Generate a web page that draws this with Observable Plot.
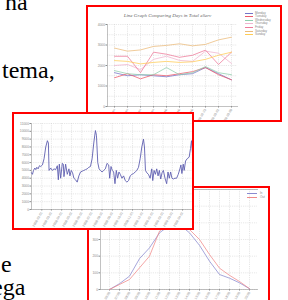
<!DOCTYPE html>
<html><head><meta charset="utf-8">
<script src="https://cdn.jsdelivr.net/npm/d3@7"></script>
<script src="https://cdn.jsdelivr.net/npm/@observablehq/plot@0.6"></script>
<style>
html,body{margin:0;padding:0;background:#fff;width:288px;height:300px;overflow:hidden;position:relative;font-family:"Liberation Sans",Arial,sans-serif}
.box{position:absolute;border:2px solid #ff0000;background:#fff;overflow:hidden;box-sizing:border-box}
.box svg{display:block;position:absolute;left:0;top:0}
.lg{position:absolute;font-size:3px;line-height:3px;color:#888;white-space:nowrap}
.sw{position:absolute;height:0.8px}
#words{position:absolute;left:0;top:0}
</style></head><body>
<svg id="words" width="288" height="300"></svg>
<div class="box" id="c1" style="left:86px;top:5px;width:196px;height:117px;z-index:1"></div>
<div class="box" id="c3" style="left:87px;top:186px;width:183px;height:130px;z-index:2"></div>
<div class="box" id="c2" style="left:12px;top:112px;width:182px;height:118px;z-index:3"></div>
<script>
// ---- page text fragments ----
const words = ["na", "tema,", "e", "ega"];

// ---- chart 1: line graph comparing days ----
const title1 = "Line Graph Comparing Days in Total eServ";
const weeks1 = ["05-Jan","12-Jan","19-Jan","26-Jan","02-Feb","09-Feb","16-Feb","2009-02-23","2009-03-02","2009-03-09"];
const dayNames = ["Monday","Tuesday","Wednesday","Thursday","Friday","Saturday","Sunday"];
const dayColors = ["#7474c8","#ec5a6a","#8fcfae","#f0b4cf","#ee7a9a","#ebbb7a","#ffcc55"];
const monday    = [1650,1500,1550,1500,1450,1550,1600,1900,1600,1300];
const tuesday   = [1400,1600,1350,1550,1500,1600,1700,1900,1550,1300];
const wednesday = [1750,1600,1550,1550,1900,1550,1650,1950,1650,1550];
const thursday  = [2000,2050,1800,2300,2450,2250,2200,2700,2600,2100];
const friday    = [2450,2450,1650,2650,2550,2400,2500,2750,2050,2650];
const saturday  = [2850,2700,2760,2930,2980,3060,2960,3030,3250,3380];
const sunday    = [2240,2200,2080,2150,2200,2150,2180,2300,2500,2650];
const yTicks1 = [0,1000,2000,3000,4000];

// ---- chart 2: daily totals ----
const start2 = "2008-01-01";
const dayOffset2 = [0,3,6,10,13,16,20,24,28,33,38,43,48,51,53,58,63,68,73,78,81,84,88,93,96,98,103,108,113,116,120,124,128,133,138,143,148,153,158,163,168,173,178,183,188,193,196,200,204,208,213,218,223,228,233,236,240,244,248,252,256,260,264,268,273,278,283,288,293,298,303,308,313,318,323,328,333,338,341,344,348,353,358,363,366,370,374,378,382,386,390,394,398,403,408,412,416,420,424,428,433,438,443,448,451,454,458,461,465,470,476,480,483,486];
const total2 = [4700,4500,5000,5300,5100,5400,5200,5600,5500,5700,6500,8000,8800,8500,5000,5300,5000,5200,5100,5600,3800,5800,4000,5900,5800,4200,5800,4500,5200,4300,5000,4700,4000,3800,3500,4300,4800,4900,5000,5100,5200,5400,5500,6500,8500,10100,9500,6000,5200,5000,4800,5000,5200,5900,5700,4000,5500,5000,4800,3300,5000,4000,4800,4500,4000,4300,3700,3500,3700,4300,4500,4600,4800,5000,5400,6500,8000,9000,8000,5000,4700,4500,4000,5200,3700,5000,4500,5200,4300,5000,3900,4700,5000,4000,3300,4800,4000,4800,4000,3900,4000,4000,4500,5200,5700,4600,5800,5000,6200,6500,6700,7800,8800,7200];
const yTicks2 = [0,1000,2000,3000,4000,5000,6000,7000,8000,9000,10000,11000];

// ---- chart 3: hourly comparison ----
const hours3 = ["06:00","07:00","08:00","09:00","10:00","11:00","12:00","13:00","14:00","15:00","16:00","17:00","18:00","19:00","20:00"];
const series3 = ["In","Out"];
const colors3 = ["#8a8ad0","#f08a8a"];
const in3  = [0,35,80,185,250,340,385,390,340,265,170,90,68,40,5];
const out3 = [0,30,60,130,200,350,400,400,360,300,210,128,85,48,5];
const yTicks3 = [0,100,200,300,400,500,600];

// ---------- page words ----------
{
  const svg = d3.select("#words");
  const pos = [[5,10],[2,78],[1,272],[-8,295]];
  words.forEach((w,i)=>{
    svg.append("text").attr("x",pos[i][0]).attr("y",pos[i][1])
      .attr("font-family","'Liberation Serif','Times New Roman',serif")
      .attr("font-size",24).attr("fill","#000").text(w);
  });
}

const gray = "#8a8a8a";
const gridStyle = {stroke:"#cfcfcf", strokeOpacity:1, strokeDasharray:"1.2,1", strokeWidth:0.5};

// ---------- chart 1 ----------
{
  const all = [monday,tuesday,wednesday,thursday,friday,saturday,sunday];
  const rows = [];
  dayNames.forEach((d,i)=>weeks1.forEach((w,j)=>rows.push({day:d, week:w, v:all[i][j]})));
  const p = Plot.plot({
    width:192, height:113, marginLeft:19, marginRight:43, marginTop:17, marginBottom:14,
    style:{fontSize:"3.3px", color:gray, fontFamily:"'Liberation Sans',sans-serif", background:"#fff"},
    x:{type:"point", domain:weeks1, padding:0.375, label:null},
    y:{domain:[0,4000], label:null},
    color:{domain:dayNames, range:dayColors},
    marks:[
      Plot.gridY([500,1000,1500,2000,2500,3000,3500,4000], gridStyle),
      Plot.gridX(gridStyle),
      Plot.axisY({ticks:yTicks1, tickFormat:d3.format("d"), tickSize:1.5, tickPadding:1, label:null}),
      Plot.axisX({tickRotate:-60, tickSize:1.5, tickPadding:1, label:null}),
      Plot.frame({anchor:"left", stroke:"#999", strokeWidth:0.6}),
      Plot.frame({anchor:"bottom", stroke:"#999", strokeWidth:0.6}),
      Plot.lineY(rows, {x:"week", y:"v", stroke:"day", strokeWidth:0.9, strokeOpacity:0.85}),
      Plot.text([title1], {frameAnchor:"top", dy:-11, dx:-5, fontStyle:"italic", fontSize:5, fill:"#666", fontFamily:"'Liberation Serif',serif"})
    ]
  });
  const box = document.getElementById("c1");
  box.appendChild(p);
  dayNames.forEach((d,i)=>{
    const sw = document.createElement("div");
    sw.className="sw"; sw.style.left="157px"; sw.style.width="8px";
    sw.style.top=(5.5+i*3.6)+"px"; sw.style.background=dayColors[i];
    box.appendChild(sw);
    const t = document.createElement("div");
    t.className="lg"; t.style.left="167px"; t.style.top=(4.5+i*3.6)+"px"; t.textContent=d;
    box.appendChild(t);
  });
}

// ---------- chart 2 ----------
{
  const s = new Date(start2);
  const rows = dayOffset2.map((o,i)=>({date:d3.utcDay.offset(s,o), v:total2[i]}));
  const end = d3.utcDay.offset(s, dayOffset2[dayOffset2.length-1]);
  const months = d3.utcMonths(d3.utcDay.offset(s,8), end);
  const p = Plot.plot({
    width:178, height:114, marginLeft:17, marginRight:0, marginTop:9, marginBottom:19,
    style:{fontSize:"3.3px", color:gray, fontFamily:"'Liberation Sans',sans-serif", background:"#fff"},
    x:{type:"utc", domain:[s,end], label:null},
    y:{domain:[0,11000], label:null},
    marks:[
      Plot.gridY(yTicks2, gridStyle),
      Plot.gridX(months, gridStyle),
      Plot.axisY({ticks:yTicks2, tickFormat:d3.format("d"), tickSize:1.5, tickPadding:1, label:null}),
      Plot.axisX({ticks:months, tickFormat:d3.utcFormat("%Y-%m-%d"), tickRotate:-60, tickSize:1.5, tickPadding:1, label:null}),
      Plot.frame({anchor:"left", stroke:"#999", strokeWidth:0.6}),
      Plot.frame({anchor:"bottom", stroke:"#999", strokeWidth:0.6}),
      Plot.lineY(rows, {x:"date", y:"v", stroke:"#5f5fb0", strokeWidth:0.9})
    ]
  });
  document.getElementById("c2").appendChild(p);
}

// ---------- chart 3 ----------
{
  const vals = [in3, out3];
  const rows = [];
  series3.forEach((n,i)=>hours3.forEach((h,j)=>rows.push({s:n, h, v:vals[i][j]})));
  const p = Plot.plot({
    width:179, height:126, marginLeft:11, marginRight:11, marginTop:1, marginBottom:25,
    style:{fontSize:"3.3px", color:gray, fontFamily:"'Liberation Sans',sans-serif", background:"#fff"},
    x:{type:"point", domain:hours3, padding:0.68, label:null},
    y:{domain:[0,600], label:null},
    color:{domain:series3, range:colors3},
    marks:[
      Plot.gridY(yTicks3, gridStyle),
      Plot.gridX(gridStyle),
      Plot.axisY({ticks:yTicks3, tickFormat:d3.format("d"), tickSize:1.5, tickPadding:1, label:null}),
      Plot.axisX({tickRotate:-60, tickSize:1.5, tickPadding:1, label:null}),
      Plot.frame({anchor:"top", stroke:"#aaa", strokeWidth:0.8}),
      Plot.frame({anchor:"left", stroke:"#999", strokeWidth:0.6}),
      Plot.frame({anchor:"bottom", stroke:"#999", strokeWidth:0.6}),
      Plot.lineY(rows, {x:"h", y:"v", stroke:"s", strokeWidth:0.9, strokeOpacity:0.85})
    ]
  });
  const box = document.getElementById("c3");
  box.appendChild(p);
  series3.forEach((n,i)=>{
    const sw = document.createElement("div");
    sw.className="sw"; sw.style.left="158px"; sw.style.width="10px";
    sw.style.top=(5+i*4)+"px"; sw.style.background=colors3[i];
    box.appendChild(sw);
    const t = document.createElement("div");
    t.className="lg"; t.style.left="171px"; t.style.top=(4+i*4)+"px"; t.textContent=n;
    box.appendChild(t);
  });
}
</script>
</body></html>
